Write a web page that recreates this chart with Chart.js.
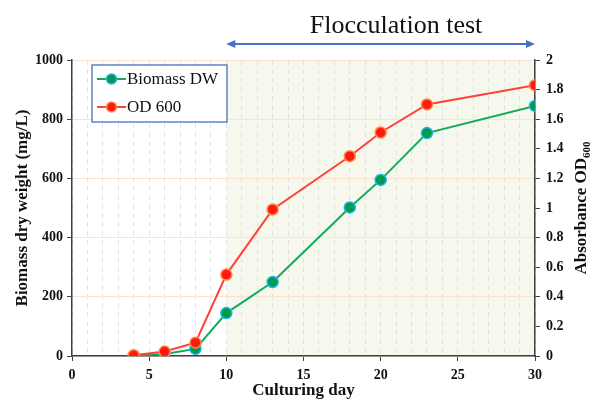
<!DOCTYPE html>
<html>
<head>
<meta charset="utf-8">
<script src="https://cdn.jsdelivr.net/npm/chart.js@4"></script>
<style>
  html, body { margin: 0; padding: 0; background: #fff; }
  #wrap { width: 590px; height: 401px; }
</style>
</head>
<body>
<div id="wrap"><canvas id="c" width="590" height="401"></canvas></div>
<script>
// values
const days = [4, 6, 8, 10, 13, 18, 20, 23, 30];
const biomassDW = [0, 7, 24, 145, 250, 502, 595, 753, 845];
const od600 = [0.005, 0.03, 0.09, 0.55, 0.99, 1.35, 1.51, 1.70, 1.83];
const seriesNames = ['Biomass DW', 'OD 600'];
const flocFrom = 10, flocTo = 30;

const serif = "'Liberation Serif', 'Times New Roman', serif";
const green = { line: '#12aa5c', fill: '#009a48', edge: '#1ab4ee' };
const red = { line: '#ff4236', fill: '#ff1a10', edge: '#ff8a48' };

const pts = (ys) => days.map((d, i) => ({ x: d, y: ys[i] }));

const decor = {
  id: 'decor',
  beforeDraw(chart) {
    const { ctx, chartArea: a, scales: { x } } = chart;
    const x0 = x.getPixelForValue(flocFrom), x1 = x.getPixelForValue(flocTo);
    ctx.save();
    ctx.fillStyle = '#f6f7ed';
    ctx.fillRect(x0, a.top, x1 - x0, a.bottom - a.top);
    ctx.restore();
  },
  afterDraw(chart) {
    const { ctx, scales: { x } } = chart;
    ctx.save();

    // heading + double arrow over the flocculation period
    const x0 = x.getPixelForValue(flocFrom), x1 = x.getPixelForValue(flocTo);
    ctx.fillStyle = '#111';
    ctx.font = '26px ' + serif;
    ctx.textAlign = 'center';
    ctx.textBaseline = 'alphabetic';
    ctx.fillText('Flocculation test', 396, 33);
    const ay = 44;
    ctx.strokeStyle = '#4472c4';
    ctx.fillStyle = '#4472c4';
    ctx.lineWidth = 2;
    ctx.beginPath(); ctx.moveTo(x0 + 6, ay); ctx.lineTo(x1 - 6, ay); ctx.stroke();
    ctx.beginPath(); ctx.moveTo(x0, ay); ctx.lineTo(x0 + 9, ay - 4); ctx.lineTo(x0 + 9, ay + 4); ctx.closePath(); ctx.fill();
    ctx.beginPath(); ctx.moveTo(x1, ay); ctx.lineTo(x1 - 9, ay - 4); ctx.lineTo(x1 - 9, ay + 4); ctx.closePath(); ctx.fill();

    // right axis title with subscript
    ctx.save();
    ctx.translate(582, 208);
    ctx.rotate(-Math.PI / 2);
    ctx.fillStyle = '#111';
    ctx.textBaseline = 'middle';
    ctx.textAlign = 'left';
    const mainF = 'bold 17px ' + serif, subF = 'bold 11px ' + serif;
    ctx.font = mainF;
    const w1 = ctx.measureText('Absorbance OD').width;
    ctx.font = subF;
    const w2 = ctx.measureText('600').width;
    const sx = -(w1 + w2) / 2;
    ctx.font = mainF;
    ctx.fillText('Absorbance OD', sx, 0);
    ctx.font = subF;
    ctx.fillText('600', sx + w1, 5);
    ctx.restore();

    // legend box
    const lx = 92, ly = 65, lw = 135, lh = 57;
    ctx.fillStyle = '#fff';
    ctx.fillRect(lx, ly, lw, lh);
    ctx.strokeStyle = '#4472c4';
    ctx.lineWidth = 1.3;
    ctx.strokeRect(lx, ly, lw, lh);
    [green, red].forEach((c, i) => {
      const yy = ly + 14 + i * 28;
      ctx.strokeStyle = c.line;
      ctx.lineWidth = 2;
      ctx.beginPath(); ctx.moveTo(lx + 5, yy); ctx.lineTo(lx + 34, yy); ctx.stroke();
      ctx.beginPath(); ctx.arc(lx + 19.5, yy, 5, 0, Math.PI * 2);
      ctx.fillStyle = c.fill; ctx.fill();
      ctx.lineWidth = 1.5; ctx.strokeStyle = c.edge; ctx.stroke();
      ctx.fillStyle = '#111';
      ctx.font = '17px ' + serif;
      ctx.textAlign = 'left';
      ctx.textBaseline = 'middle';
      ctx.fillText(seriesNames[i], lx + 35, yy + 1);
    });
    ctx.restore();
  }
};

new Chart(document.getElementById('c'), {
  type: 'line',
  data: {
    datasets: [
      {
        label: seriesNames[0],
        data: pts(biomassDW),
        yAxisID: 'y',
        order: 1,
        borderColor: green.line,
        backgroundColor: green.fill,
        pointBackgroundColor: green.fill,
        pointBorderColor: green.edge,
        borderWidth: 2,
        pointRadius: 5.5,
        pointBorderWidth: 1.5,
        tension: 0
      },
      {
        label: seriesNames[1],
        data: pts(od600),
        yAxisID: 'y2',
        order: 0,
        borderColor: red.line,
        backgroundColor: red.fill,
        pointBackgroundColor: red.fill,
        pointBorderColor: red.edge,
        borderWidth: 2,
        pointRadius: 5.5,
        pointBorderWidth: 1.5,
        tension: 0
      }
    ]
  },
  options: {
    responsive: false,
    animation: false,
    layout: { padding: { top: 60, left: 0, right: 0, bottom: 0 } },
    plugins: { legend: { display: false }, tooltip: { enabled: false } },
    scales: {
      x: {
        type: 'linear',
        min: 0, max: 30,
        afterFit: (s) => { s.height = 45; },
        ticks: {
          stepSize: 1, autoSkip: false, maxRotation: 0, padding: 6,
          color: '#111',
          font: { family: serif, size: 14, weight: 'bold' },
          callback: (v) => (v % 5 === 0 ? String(v) : '')
        },
        grid: {
          color: '#e2e2de',
          lineWidth: 1,
          tickLength: 5,
          tickColor: (c) => (c.tick && c.tick.value % 5 === 0 ? '#404040' : 'rgba(0,0,0,0)')
        },
        border: { color: '#404040', width: 1.5, dash: [5, 4] },
        title: {
          display: true, text: 'Culturing day', color: '#111',
          font: { family: serif, size: 17, weight: 'bold' },
          padding: { top: 0, bottom: 0 }
        }
      },
      y: {
        position: 'left',
        min: 0, max: 1000,
        afterFit: (s) => { s.width = 72; },
        ticks: {
          stepSize: 200, padding: 4, color: '#111',
          font: { family: serif, size: 14, weight: 'bold' },
          callback: (v) => String(v)
        },
        grid: { color: '#fde2cf', lineWidth: 1, tickLength: 5, tickColor: '#404040' },
        border: { color: '#404040', width: 1.5 },
        title: {
          display: true, text: 'Biomass dry weight (mg/L)', color: '#111',
          font: { family: serif, size: 17, weight: 'bold' },
          padding: { top: 12, bottom: 0 }
        }
      },
      y2: {
        position: 'right',
        min: 0, max: 2,
        afterFit: (s) => { s.width = 55; },
        ticks: {
          stepSize: 0.2, padding: 6, color: '#111',
          font: { family: serif, size: 14, weight: 'bold' },
          callback: (v) => String(Number(v.toFixed(1)))
        },
        grid: { drawOnChartArea: false, tickLength: 5, tickColor: '#404040' },
        border: { color: '#404040', width: 1.5 }
      }
    }
  },
  plugins: [decor]
});
</script>
</body>
</html>
